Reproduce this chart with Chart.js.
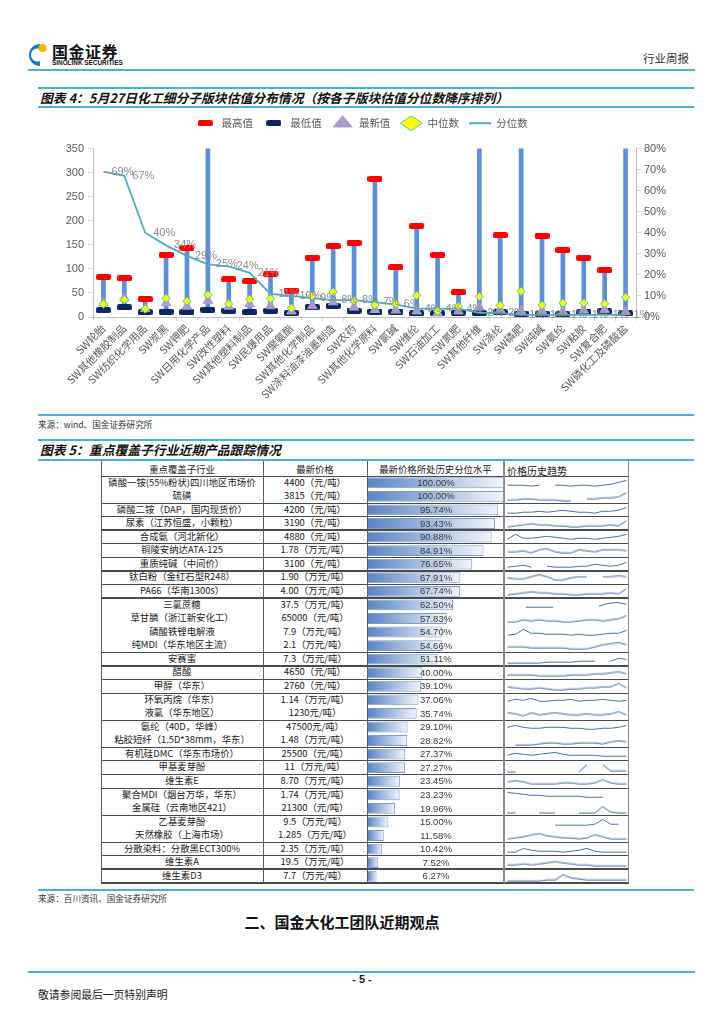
<!DOCTYPE html>
<html lang="zh-CN">
<head>
<meta charset="utf-8">
<title>化工细分子版块估值分布</title>
<script src="https://cdn.jsdelivr.net/npm/chart.js@4.4.1/dist/chart.umd.min.js"></script>
<style>
  html, body { margin: 0; padding: 0; background: #fff; }
  body {
    width: 724px; height: 1024px; position: relative; overflow: hidden;
    font-family: "Noto Sans CJK SC", "Noto Sans", sans-serif; color: #222;
  }
  .abs { position: absolute; white-space: nowrap; }
  .rule { position: absolute; left: 38px; width: 656px; height: 2px; background: #45B0E6; }
  .fig-title { position: absolute; left: 40px; font-size: 12.8px; font-weight: bold; font-style: italic; color: #111; }
  .src { position: absolute; left: 38px; font-size: 8.6px; color: #333; }
  .cell { position: absolute; font-size: 9.4px; text-align: center; white-space: nowrap; color: #1a1a1a; }
  .hline { position: absolute; background: #4a4a4a; }
  .vline { position: absolute; background: #5a5a5a; width: 1px; }
  canvas { display: block; }
</style>
</head>
<body>

<!-- en-tête -->
<svg class="abs" style="left:25px;top:41px" width="26" height="28" viewBox="0 0 26 28">
  <path d="M15 3 A11 11 0 1 0 15 25 L15 20 A6.5 6.5 0 1 1 15 8 Z" fill="#1677C8"/>
  <circle cx="17.5" cy="7" r="4" fill="#F5B800"/>
</svg>
<div class="abs" style="left:52px;top:43px;font-size:16px;line-height:16px;font-weight:bold;color:#111;letter-spacing:0.5px">国金证券</div>
<div class="abs" style="left:52px;top:59px;font-size:6.4px;line-height:7px;font-weight:bold;color:#111;font-family:'Liberation Sans',sans-serif">SINOLINK SECURITIES</div>
<div class="abs" style="left:643px;top:50px;font-size:11.5px;color:#333">行业周报</div>
<div class="rule" style="left:28px;width:667px;top:69px"></div>

<!-- figure 4 -->
<div class="rule" style="top:87px"></div>
<div class="fig-title" style="top:88px">图表 4：5月27日化工细分子版块估值分布情况（按各子版块估值分位数降序排列）</div>
<div class="rule" style="top:106px"></div>
<div class="abs" style="left:30px;top:108px;width:662px;height:298px"><canvas id="valChart"></canvas></div>
<div class="rule" style="top:414px"></div>
<div class="src" style="top:418px">来源：wind、国金证券研究所</div>

<!-- figure 5 -->
<div class="rule" style="top:439px"></div>
<div class="fig-title" style="top:440px">图表 5：重点覆盖子行业近期产品跟踪情况</div>
<div class="rule" style="top:459px"></div>
<div id="tbl"></div>
<div class="rule" style="top:889px"></div>
<div class="src" style="top:892px">来源：百川资讯、国金证券研究所</div>

<div class="abs" style="left:0;width:684px;top:911px;text-align:center;font-size:15px;font-weight:bold;color:#111">二、国金大化工团队近期观点</div>

<!-- pied de page -->
<div class="rule" style="left:28px;width:667px;top:971px"></div>
<div class="abs" style="left:0;width:724px;top:973px;text-align:center;font-size:11px;font-weight:bold;font-family:'Liberation Sans',sans-serif">- 5 -</div>
<div class="abs" style="left:38px;top:986px;font-size:10.8px;color:#222">敬请参阅最后一页特别声明</div>

<script>
// Données figure 4
const categories = [
    'SW轮胎', 'SW其他橡胶制品', 'SW纺织化学用品', 'SW炭黑', 'SW钾肥', 'SW日用化学产品',
    'SW改性塑料', 'SW其他塑料制品', 'SW民爆用品', 'SW聚氨酯', 'SW其他化学制品',
    'SW涂料油漆油墨制造', 'SW农药', 'SW其他化学原料', 'SW氯碱', 'SW维纶', 'SW石油加工',
    'SW氮肥', 'SW其他纤维', 'SW涤纶', 'SW磷肥', 'SW纯碱', 'SW氨纶', 'SW粘胶', 'SW复合肥',
    'SW磷化工及磷酸盐'
];
// 400 = hors échelle (coupé à 350 sur le graphique)
const maxValues = [83, 80, 37, 129, 144, 400, 78, 74, 89, 55, 123, 147, 154, 287, 103, 189, 129, 51, 400, 170, 400, 169, 139, 123, 97, 400];
const minValues = [14, 20, 10, 11, 10, 15, 13, 10, 13, 8, 20, 23, 13, 11, 11, 7.5, 7.5, 9, 8, 9.5, 7, 7, 5.5, 9.5, 11.5, 7.5];
const latestValues = [29, 39, 17, 29, 22, 34, 22, 27, 23, 12, 23, 31, 20, 15, 14, 12, 8, 12, 20, 15, 13, 13, 11, 14, 15, 11];
const medianValues = [27, 36, 16.5, 39, 33, 46, 27.5, 37, 38, 18.5, 44, 52, 34, 25, 27.5, 45, 12.5, 22, 42.5, 24, 53.5, 24.5, 29, 29, 27.5, 41];
const percentileValues = [69, 67, 40, 34, 29, 25, 24, 21, 11, 10, 9, 8, 8, 7, 6, 4, 4, 4, 2, 2, 1, 1, 1, 1, 1, 1];
const leftTicks = [0, 50, 100, 150, 200, 250, 300, 350];
const rightTicks = [0, 10, 20, 30, 40, 50, 60, 70, 80];

// Données figure 5
const productNames = [
    '磷酸一铵(55%粉状)四川地区市场价', '硫磺', '磷酸二铵（DAP，国内现货价）', '尿素（江苏恒盛，小颗粒）',
    '合成氨（河北新化）', '铜陵安纳达ATA-125', '重质纯碱（中间价）', '钛白粉（金红石型R248）',
    'PA66（华南1300s）', '三氯蔗糖', '草甘膦（浙江新安化工）', '磷酸铁锂电解液', '纯MDI（华东地区主流）',
    '安赛蜜', '醋酸', '甲醇（华东）', '环氧丙烷（华东）', '液氯（华东地区）', '氨纶（40D，华峰）',
    '粘胶短纤（1.5D*38mm，华东）', '有机硅DMC（华东市场价）', '甲基麦芽酚', '维生素E',
    '聚合MDI（烟台万华，华东）', '金属硅（云南地区421）', '乙基麦芽酚', '天然橡胶（上海市场）',
    '分散染料：分散黑ECT300%', '维生素A', '维生素D3'
];
const latestPrices = [
    '4400（元/吨）', '3815（元/吨）', '4200（元/吨）', '3190（元/吨）', '4880（元/吨）', '1.78（万元/吨）',
    '3100（元/吨）', '1.90（万元/吨）', '4.00（万元/吨）', '37.5（万元/吨）', '65000（元/吨）', '7.9（万元/吨）',
    '2.1（万元/吨）', '7.3（万元/吨）', '4650（元/吨）', '2760（元/吨）', '1.14（万元/吨）', '1230元/吨）',
    '47500元/吨）', '1.48（万元/吨）', '25500（元/吨）', '11（万元/吨）', '8.70（万元/吨）', '1.74（万元/吨）',
    '21300（元/吨）', '9.5（万元/吨）', '1.285（万元/吨）', '2.35（万元/吨）', '19.5（万元/吨）', '7.7（万元/吨）'
];
const priceLevels = [100.00, 100.00, 95.74, 93.43, 90.88, 84.91, 76.65, 67.91, 67.74, 62.50, 57.83, 54.70, 54.66,
    51.11, 40.00, 39.10, 37.06, 35.74, 29.10, 28.82, 27.37, 27.27, 23.45, 23.23, 19.96, 15.00, 11.58, 10.42, 7.52, 6.27];
// trait au-dessus de chaque ligne : 0 aucun, 1 fin, 2 épais
const rowRules = [1, 0, 1, 1, 2, 1, 1, 2, 1, 2, 0, 0, 0, 1, 2, 1, 1, 0, 1, 0, 1, 1, 1, 1, 0, 1, 0, 1, 1, 2];
// tendances historiques (lecture grossière, échelle 0-10)
const trendSeries = [
    [3, 3, 3, 2, 3, null, 3, 3, 2, 3, 3, 2, 3, 4, 6, 8],
    [2, 2, 3, 3, 2, 2, 2, 1, 1, null, 3, 3, 4, 4, 5, 9],
    [2, 2, 3, 3, 4, 3, 4, 5, 4, 3, 3, 2, 4, 4, 5, 8],
    [2, 3, 4, 5, 4, 4, 3, 3, 2, 2, 3, 3, 3, 4, 3, 8],
    [3, 8, 4, 4, 5, 6, 5, 4, 3, 4, 4, 3, 4, 5, 6, 8],
    [4, 4, 5, 3, 6, 7, 4, 3, 3, 6, 5, 4, 6, 6, 6, 5],
    [2, 3, 4, 2, null, 3, 2, 2, 2, 3, 3, 5, 4, 3, 4, 7],
    [5, 4, 4, 6, 8, 6, 3, 3, 5, 6, 6, null, 6, 6, 7, 6],
    [2, 3, 4, 5, 4, 4, 3, 3, 2, 2, 3, 3, 3, 4, 3, 8],
    [null, null, 3, 3, 3, 3, null, null, null, null, 4, 7, 8, 6],
    [2, 2, 4, 3, 4, 3, 3, 2, 2, 3, 4, 4, 3, 4, 5, 8],
    [2, 3, 8, 4, 4, 3, 3, 3, 2, 3, 2, 2, 3, 4, 4, 7],
    [4, 4, 4, 3, 3, 3, 3, 3, 2, 2, 2, 4, 6, 7, 8, 6],
    [1, 1, 1, 1, 1, 2, 2, 2, 2, 3, 3, 3, null, 3, 6, 5],
    [3, 3, 3, 3, 2, 2, 2, 2, 3, 3, 3, 4, 4, 5, 6, 4],
    [5, 4, 3, 3, 4, 3, 2, 2, 3, 3, 4, 4, 5, 5, 8, 4],
    [4, 6, 5, 7, 4, 4, 5, 5, 6, 4, 5, 5, 6, 5, 4, 5],
    [6, 5, 3, 6, 4, 5, 6, 5, 4, 4, 5, 4, 4, 5, 7, 4],
    [5, 7, 5, 4, 4, 5, 5, 5, 4, 4, 3, 3, 4, 4, 5, 7],
    [null, 1, 1, 1, 2, 3, 3, 2, 2, 3, 3, 3, 2, 4, 5, 4],
    [4, 6, 5, 4, 5, 6, 7, 5, 4, 4, 4, 4, 3, 3, 3, 3],
    [1, 1, null, null, null, null, null, null, null, 1, 8, null, 8, 2, 2, 2],
    [5, 6, 5, 3, 3, 3, 3, 4, 4, 3, 3, 4, 7, 4, 3, 3],
    [8, 7, 6, 5, 5, 4, 4, 4, 4, 4, 3, 3, 3, null, null, null],
    [1, 1, null, null, 1, 1, 1, null, null, 1, 1, 1, 7, 2, 1, 1],
    [null, null, null, null, null, null, 2, 2, 2, 2, 2, 3, 8, 3, 3, null],
    [2, 3, 4, 6, 7, 5, 4, 3, 3, 2, 3, 6, 4, 2, 2, 2],
    [2, 2, 6, 4, 3, 3, 3, 2, 3, 4, 6, 3, 2, 2, 2, 2],
    [3, 3, 4, 3, 4, 5, 6, 5, 4, 3, 3, 2, 2, 2, 2, 2],
    [1, 1, 1, 1, 1, 2, 2, 7, 4, 3, 2, 2, 2, 2, 2, 2]
];

Chart.defaults.animation = false;
Chart.defaults.devicePixelRatio = 1;
Chart.defaults.font.family = '"Noto Sans CJK SC", "Noto Sans", sans-serif';

// Marqueurs en tiret arrondi pour max / min
function dashMarker(color) {
    const c = document.createElement('canvas');
    c.width = 15;
    c.height = 6;
    const g = c.getContext('2d');
    g.fillStyle = color;
    g.beginPath();
    g.roundRect(0, 0, 15, 6, 2);
    g.fill();
    return c;
}

// Étiquettes de la courbe des quantiles
const pctLabels = {
    id: 'pctLabels',
    afterDatasetsDraw(chart) {
        const meta = chart.getDatasetMeta(5);
        const ctx = chart.ctx;
        ctx.save();
        ctx.font = '11px "Liberation Sans", Arial, sans-serif';
        ctx.fillStyle = '#8C8C8C';
        ctx.textBaseline = 'middle';
        meta.data.forEach((pt, i) => {
            ctx.fillText(percentileValues[i] + '%', pt.x + 8, pt.y);
        });
        ctx.restore();
    }
};

// Un peu plus d'espace sous la légende
const legendGap = {
    id: 'legendGap',
    beforeInit(chart) {
        const fit = chart.legend.fit;
        chart.legend.fit = function () {
            fit.call(this);
            this.height += 10;
        };
    }
};

const tickFont = { family: '"Liberation Sans", Arial, sans-serif', size: 11 };

new Chart(document.getElementById('valChart'), {
    data: {
        labels: categories,
        datasets: [
            {
                type: 'bar', label: '区间',
                data: categories.map((c, i) => [minValues[i], maxValues[i]]),
                backgroundColor: '#5B8FD9', barThickness: 4, order: 9
            },
            {
                type: 'line', label: '最高值', data: maxValues, showLine: false,
                pointStyle: dashMarker('#FF0000'), pointRadius: 6, order: 5
            },
            {
                type: 'line', label: '最低值', data: minValues, showLine: false,
                pointStyle: dashMarker('#0B2463'), pointRadius: 6, order: 6
            },
            {
                type: 'line', label: '最新值', data: latestValues, showLine: false,
                pointStyle: 'triangle', pointRadius: 5.5, backgroundColor: '#A99CCB',
                borderColor: '#A99CCB', borderWidth: 1, order: 4
            },
            {
                type: 'line', label: '中位数', data: medianValues, showLine: false,
                pointStyle: 'rectRot', pointRadius: 4.2, backgroundColor: '#FFFF00',
                borderColor: '#3FC9B8', borderWidth: 1, order: 1
            },
            {
                type: 'line', label: '分位数', data: percentileValues.map(v => v / 100), yAxisID: 'y1',
                borderColor: '#4BACC6', backgroundColor: '#4BACC6', borderWidth: 1.8,
                pointRadius: 0, pointStyle: 'line', tension: 0, order: 2
            }
        ]
    },
    options: {
        responsive: true,
        maintainAspectRatio: false,
        layout: { padding: { top: 0 } },
        plugins: {
            tooltip: { enabled: false },
            legend: {
                position: 'top',
                labels: {
                    usePointStyle: true,
                    pointStyleWidth: 22,
                    padding: 10,
                    color: '#595959',
                    font: { size: 10.5 },
                    filter: item => item.datasetIndex > 0,
                    sort: (a, b) => a.datasetIndex - b.datasetIndex
                }
            }
        },
        scales: {
            x: {
                afterFit: s => { s.height = 89; },
                grid: { display: true, offset: true, drawOnChartArea: false, tickLength: 4, color: '#D9D9D9' },
                border: { color: '#BFBFBF' },
                ticks: { autoSkip: false, maxRotation: 45, minRotation: 45, color: '#595959', font: { size: 10.5 }, padding: 1 }
            },
            y: {
                min: 0, max: 350,
                afterFit: s => { s.width = 63; },
                afterBuildTicks: s => { s.ticks = leftTicks.map(v => ({ value: v })); },
                grid: { drawOnChartArea: false, tickLength: 5, color: '#D9D9D9' },
                border: { color: '#BFBFBF' },
                ticks: { color: '#595959', font: tickFont, padding: 4 }
            },
            y1: {
                position: 'right', min: 0, max: 0.8,
                afterFit: s => { s.width = 56; },
                afterBuildTicks: s => { s.ticks = rightTicks.map(v => ({ value: v / 100 })); },
                grid: { drawOnChartArea: false, tickLength: 5, color: '#D9D9D9' },
                border: { color: '#BFBFBF' },
                ticks: { color: '#595959', font: tickFont, padding: 3, callback: v => Math.round(v * 100) + '%' }
            }
        }
    },
    plugins: [legendGap, pctLabels]
});

// Tableau figure 5
const tbl = document.getElementById('tbl');
const COLS = [101, 263, 367, 504, 628];
const TOP = 461, ROW0 = 476, BOTTOM = 883;
const ROWH = (BOTTOM - ROW0) / productNames.length;

function add(cls, style, text) {
    const d = document.createElement('div');
    d.className = cls;
    Object.assign(d.style, style);
    if (text) d.textContent = text;
    tbl.appendChild(d);
    return d;
}

// en-têtes
add('cell', { left: COLS[0] + 'px', width: (COLS[1] - COLS[0]) + 'px', top: (TOP + 1) + 'px' }, '重点覆盖子行业');
add('cell', { left: COLS[1] + 'px', width: (COLS[2] - COLS[1]) + 'px', top: (TOP + 1) + 'px' }, '最新价格');
add('cell', { left: COLS[2] + 'px', width: (COLS[3] - COLS[2]) + 'px', top: (TOP + 1) + 'px' }, '最新价格所处历史分位水平');
add('cell', { left: (COLS[3] + 3) + 'px', top: (TOP + 2) + 'px', textAlign: 'left', fontSize: '10px' }, '价格历史趋势');

productNames.forEach((name, i) => {
    const top = ROW0 + i * ROWH;
    if (rowRules[i]) {
        const h = rowRules[i] === 2 ? 2 : 1;
        add('hline', { left: COLS[0] + 'px', width: (COLS[4] - COLS[0] + 1) + 'px', top: (top - h / 2) + 'px', height: h + 'px' });
    }
    add('cell', { left: COLS[0] + 'px', width: (COLS[1] - COLS[0]) + 'px', top: (top - 0.5) + 'px', lineHeight: ROWH + 'px' }, name);
    add('cell', { left: COLS[1] + 'px', width: (COLS[2] - COLS[1]) + 'px', top: (top - 0.5) + 'px', lineHeight: ROWH + 'px' }, latestPrices[i]);
});
add('hline', { left: COLS[0] + 'px', width: (COLS[4] - COLS[0] + 1) + 'px', top: (BOTTOM - 1) + 'px', height: '1.5px' });
COLS.forEach((x, k) => {
    add('vline', { left: (x - (k === 3 ? 1 : 0)) + 'px', top: TOP + 'px', height: (BOTTOM - TOP) + 'px', width: (k === 3 ? 2 : 1) + 'px', background: k === 3 || k === 4 ? '#8a8a8a' : '#5a5a5a' });
});

// barres de niveau historique
const barBox = add('abs', { left: (COLS[2] + 1) + 'px', top: ROW0 + 'px', width: (COLS[3] - COLS[2] - 1) + 'px', height: (BOTTOM - ROW0) + 'px' });
const barCanvas = document.createElement('canvas');
barBox.appendChild(barCanvas);

const levelLabels = {
    id: 'levelLabels',
    afterDatasetsDraw(chart) {
        const ctx = chart.ctx;
        const cx = (chart.chartArea.left + chart.chartArea.right) / 2;
        ctx.save();
        ctx.font = '9.5px "Liberation Sans", Arial, sans-serif';
        ctx.fillStyle = '#3A3A3A';
        ctx.textAlign = 'center';
        ctx.textBaseline = 'middle';
        chart.getDatasetMeta(0).data.forEach((bar, i) => {
            ctx.fillText(priceLevels[i].toFixed(2) + '%', cx, bar.y + 0.5);
        });
        ctx.restore();
    }
};

new Chart(barCanvas, {
    type: 'bar',
    data: {
        labels: productNames,
        datasets: [{
            data: priceLevels,
            backgroundColor: (c) => {
                const chart = c.chart;
                if (!chart.chartArea) return '#5A86C6';
                const x0 = chart.scales.x.getPixelForValue(0);
                const x1 = chart.scales.x.getPixelForValue(c.raw);
                const g = chart.ctx.createLinearGradient(x0, 0, x1, 0);
                g.addColorStop(0, '#5A84C4');
                g.addColorStop(1, '#F2F5FB');
                return g;
            },
            borderColor: '#7C9BD0',
            borderWidth: 1,
            categoryPercentage: 1,
            barPercentage: 0.8
        }]
    },
    options: {
        indexAxis: 'y',
        responsive: true,
        maintainAspectRatio: false,
        layout: { padding: 0 },
        plugins: { legend: { display: false }, tooltip: { enabled: false } },
        scales: {
            x: { display: false, min: 0, max: 100 },
            y: { display: false }
        }
    },
    plugins: [levelLabels]
});

// courbes de tendance
trendSeries.forEach((series, i) => {
    const box = add('abs', { left: (COLS[3] + 3) + 'px', top: (ROW0 + i * ROWH + 1.5) + 'px', width: '120px', height: (ROWH - 3) + 'px' });
    const cv = document.createElement('canvas');
    box.appendChild(cv);
    new Chart(cv, {
        type: 'line',
        data: {
            labels: series.map((v, k) => k),
            datasets: [{ data: series, borderColor: '#4A6FAE', borderWidth: 1, pointRadius: 0, spanGaps: false, tension: 0 }]
        },
        options: {
            responsive: true,
            maintainAspectRatio: false,
            layout: { padding: 0 },
            plugins: { legend: { display: false }, tooltip: { enabled: false } },
            scales: { x: { display: false }, y: { display: false, min: 0, max: 10 } }
        }
    });
});
</script>
</body>
</html>
